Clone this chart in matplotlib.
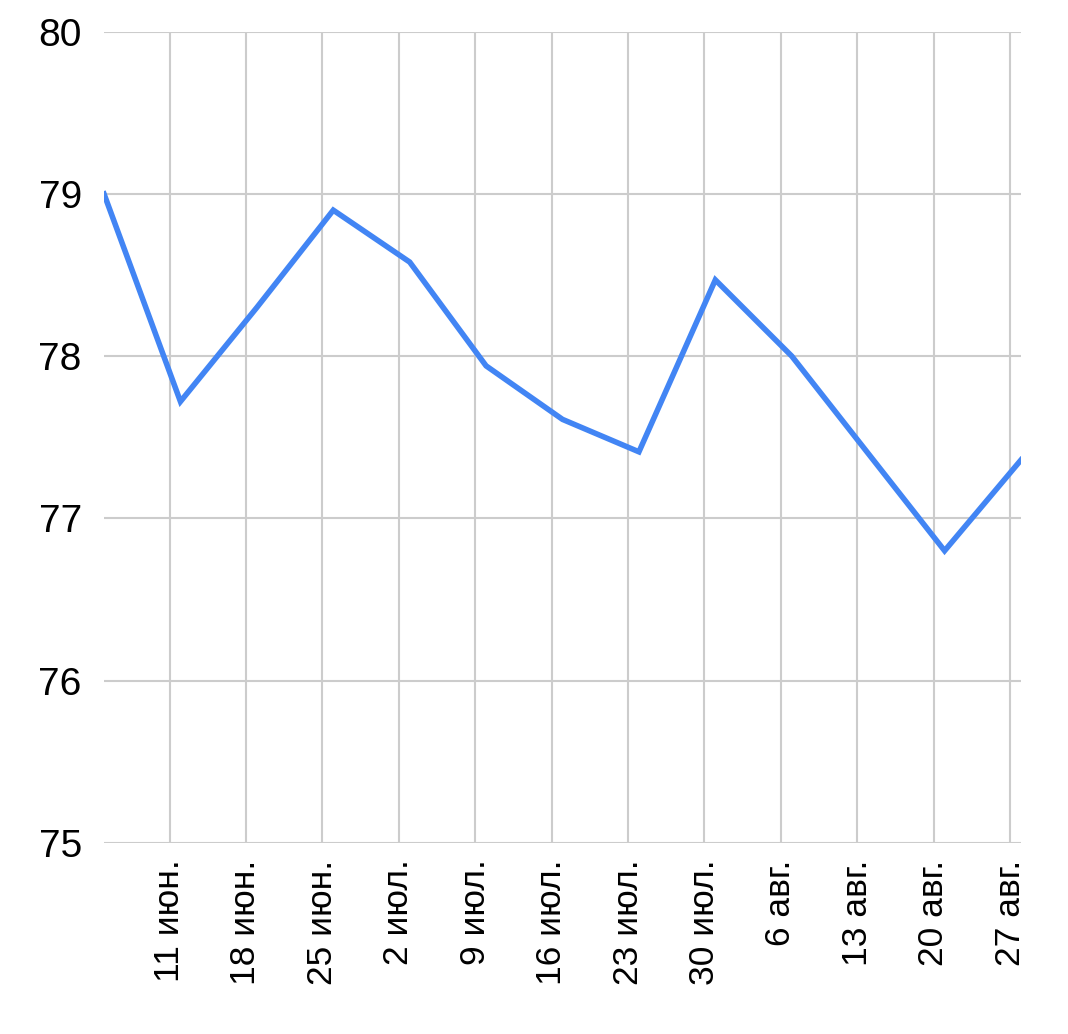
import numpy as np
import matplotlib.pyplot as plt
import matplotlib.dates as mdates
from datetime import date

plt.rcParams['font.family'] = ['Liberation Sans', 'DejaVu Sans']

# weekly values
dates = [date(2023, 6, 5), date(2023, 6, 12), date(2023, 6, 19), date(2023, 6, 26),
         date(2023, 7, 3), date(2023, 7, 10), date(2023, 7, 17), date(2023, 7, 24),
         date(2023, 7, 31), date(2023, 8, 7), date(2023, 8, 14), date(2023, 8, 21),
         date(2023, 8, 28)]
values = [79.0, 77.72, 78.3, 78.9, 78.58, 77.94, 77.61, 77.41, 78.47, 78.0, 77.4, 76.8, 77.36]

tick_dates = [date(2023, 6, 11), date(2023, 6, 18), date(2023, 6, 25), date(2023, 7, 2),
              date(2023, 7, 9), date(2023, 7, 16), date(2023, 7, 23), date(2023, 7, 30),
              date(2023, 8, 6), date(2023, 8, 13), date(2023, 8, 20), date(2023, 8, 27)]
tick_labels = ['11 июн.', '18 июн.', '25 июн.', '2 июл.', '9 июл.', '16 июл.', '23 июл.',
               '30 июл.', '6 авг.', '13 авг.', '20 авг.', '27 авг.']
y_ticks = [75, 76, 77, 78, 79, 80]

fig = plt.figure(figsize=(10.68, 10.34), dpi=100)
ax = fig.add_axes([0.0974, 0.185, 0.8586, 0.7843])

ax.plot(dates, values, color='#4285F4', linewidth=4.0, solid_joinstyle='miter', zorder=3)

ax.set_xlim(date(2023, 6, 5), date(2023, 8, 28))
ax.set_ylim(75, 80)
ax.set_yticks(y_ticks)
ax.set_yticklabels([str(v) for v in y_ticks], fontsize=28)
ax.set_xticks(mdates.date2num(tick_dates))
ax.set_xticklabels(tick_labels, rotation=90, fontsize=25.5, va='top', ha='center')

ax.grid(True, color='#cccccc', linewidth=1.5)
ax.set_axisbelow(True)
for s in ax.spines.values():
    s.set_visible(False)
ax.tick_params(axis='both', length=0)
ax.tick_params(axis='y', pad=16)
ax.tick_params(axis='x', pad=12)

fig.savefig('out.png', dpi=100, facecolor='white')
